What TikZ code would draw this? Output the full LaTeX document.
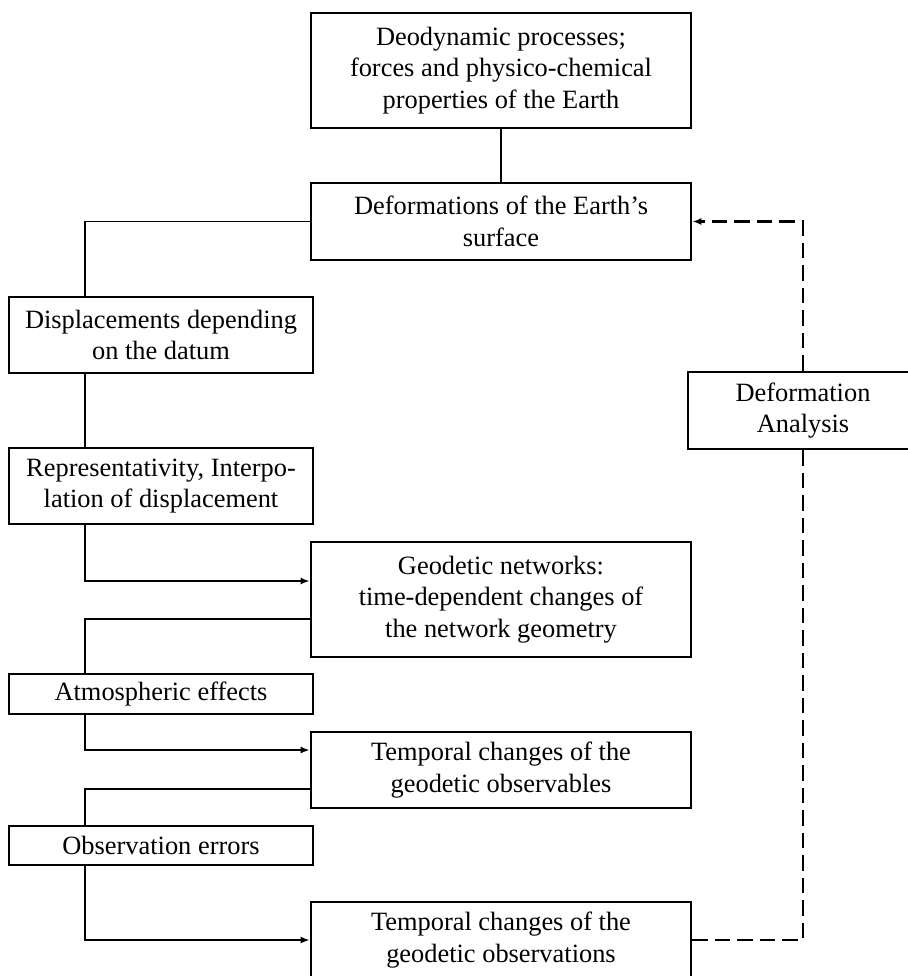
\documentclass[tikz,border=0pt]{standalone}
\usepackage{fontspec}
\setmainfont{Liberation Serif}
\usetikzlibrary{arrows.meta}
\begin{document}
\begin{tikzpicture}[x=0.5pt,y=-0.5pt,
  box/.style={draw, line width=1.35pt, align=center, inner sep=0pt,
    font=\fontsize{13.2}{15.8}\selectfont},
  wide/.style={box, minimum width=190pt},
  narrow/.style={box, minimum width=152pt},
  conn/.style={line width=0.9pt},
  arr/.style={conn, -{Latex[length=4.5pt,width=3.5pt]}},
  dashline/.style={line width=1.4pt, dash pattern=on 7.75pt off 3.5pt},
]
\useasboundingbox (0,0) rectangle (907,976);
\node[wide, minimum height=57.5pt, line width=1.45pt] (top) at (501,70.5)
  {Deodynamic processes;\\forces and physico-chemical\\properties of the Earth};
\node[wide, minimum height=38.5pt] (def) at (501,221.5)
  {Deformations of the Earth's\\surface};
\node[narrow, minimum height=38pt] (disp) at (161,335)
  {Displacements depending\\on the datum};
\node[narrow, minimum height=38pt] (repr) at (161,486)
  {Representativity, Interpo-\\lation of displacement};
\node[wide, minimum height=57.5pt] (geo) at (501,599.5)
  {Geodetic networks:\\time-dependent changes of\\the network geometry};
\node[narrow, minimum height=20pt] (atm) at (161,694)
  {Atmospheric effects};
\node[wide, minimum height=38pt] (tobs) at (501,770)
  {Temporal changes of the\\geodetic observables};
\node[narrow, minimum height=19.5pt] (err) at (161,845.5)
  {Observation errors};
\node[wide, minimum height=38pt] (tobn) at (501,940)
  {Temporal changes of the\\geodetic observations};
\node[box, minimum width=115pt, minimum height=38.5pt] (da) at (803,410.5)
  {Deformation\\Analysis};

\draw[conn] (top.south) -- (def.north);
\draw[conn] (def.west) -| ([xshift=-38pt]disp.north);
\draw[conn] ([xshift=-38pt]disp.south) -- ([xshift=-38pt]repr.north);
\draw[arr] ([xshift=-38pt]repr.south) |- ([yshift=9.25pt]geo.west);
\draw[conn] ([yshift=-9.75pt]geo.west) -| ([xshift=-38pt]atm.north);
\draw[arr] ([xshift=-38pt]atm.south) |- ([yshift=10pt]tobs.west);
\draw[conn] ([yshift=-9.5pt]tobs.west) -| ([xshift=-38pt]err.north);
\draw[arr] ([xshift=-38pt]err.south) |- (tobn.west);
\draw[dashline] (tobn.east) -| (da.south);
\draw[dashline, -{Latex[length=4.5pt,width=3.5pt]}] (da.north) |- (def.east);
\end{tikzpicture}
\end{document}
